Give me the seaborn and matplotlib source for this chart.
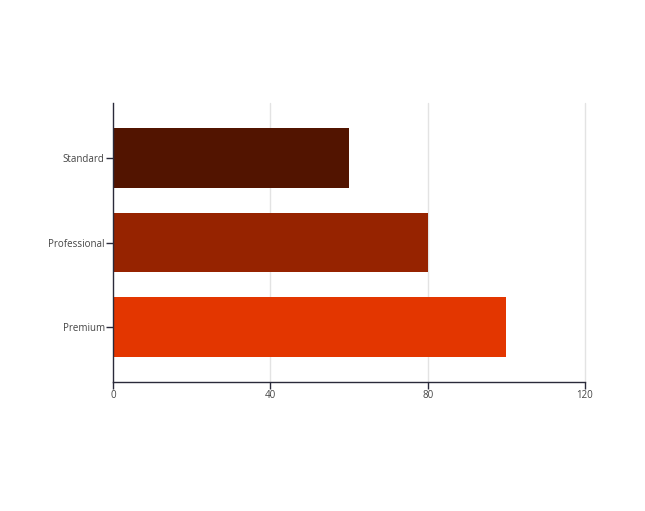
import matplotlib
matplotlib.use('Agg')
import matplotlib.pyplot as plt
import seaborn as sns
import pandas as pd

# data
categories = ['Standard', 'Professional', 'Premium']
values = [60, 80, 100]
bar_colors = ['#521400', '#962300', '#e33600']

df = pd.DataFrame({'tier': categories, 'value': values})

sns.set_style('white')
plt.rcParams['font.family'] = ['Open Sans', 'DejaVu Sans']

fig = plt.figure(figsize=(6.45, 5.11), dpi=100)
ax = fig.add_axes([0.1752, 0.2524, 0.7318, 0.546])

sns.barplot(data=df, x='value', y='tier', hue='tier', palette=bar_colors,
            orient='h', width=0.7, legend=False, ax=ax, saturation=1,
            linewidth=0)

ax.set_xlim(0, 120)
ax.set_ylim(2.65, -0.65)
ax.set_xticks([0, 40, 80, 120])
ax.set_xlabel('')
ax.set_ylabel('')

# vertical grid lines (the one at 120 sits on the edge, so don't clip it)
for x in [40, 80, 120]:
    ax.axvline(x, color='#e3e3e3', lw=1, zorder=0, clip_on=False)

for side in ['top', 'right']:
    ax.spines[side].set_visible(False)
for side in ['left', 'bottom']:
    ax.spines[side].set_color('#2a2a3a')
    ax.spines[side].set_linewidth(1)

ax.tick_params(axis='both', direction='out', length=5, width=1, color='#2a2a3a',
               labelsize=7, labelcolor='#444444', pad=1, bottom=True, left=True)
ax.tick_params(axis='x', pad=1)

plt.savefig('out.png', dpi=100)
